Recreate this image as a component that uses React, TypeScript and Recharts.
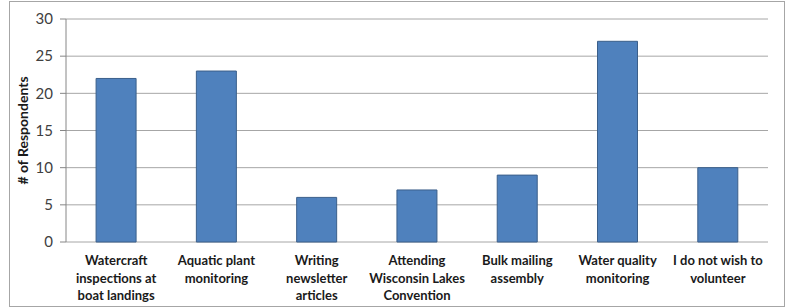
import React from 'react';
import { BarChart, Bar, XAxis, YAxis, CartesianGrid } from 'recharts';

const categories = [
  'Watercraft inspections at boat landings',
  'Aquatic plant monitoring',
  'Writing newsletter articles',
  'Attending Wisconsin Lakes Convention',
  'Bulk mailing assembly',
  'Water quality monitoring',
  'I do not wish to volunteer',
];
const categoryLines: string[][] = [
  ['Watercraft', 'inspections at', 'boat landings'],
  ['Aquatic plant', 'monitoring'],
  ['Writing', 'newsletter', 'articles'],
  ['Attending', 'Wisconsin Lakes', 'Convention'],
  ['Bulk mailing', 'assembly'],
  ['Water quality', 'monitoring'],
  ['I do not wish to', 'volunteer'],
];
const respondents = [22, 23, 6, 7, 9, 27, 10];
const yTicks = [0, 5, 10, 15, 20, 25, 30];
const boundaryTicks = [0, 1, 2, 3, 4, 5, 6, 7];

const data = categories.map((name, i) => ({ name, value: respondents[i], idx: i }));

const FONT = 'Lato, "Open Sans", sans-serif';

const CatTick = (props: any) => {
  const { x, y, index } = props;
  const lines = categoryLines[index] || [];
  return (
    <g>
      {lines.map((l, k) => (
        <text
          key={k}
          x={x}
          y={y + 15 + k * 17.5}
          textAnchor="middle"
          fontFamily={FONT}
          fontWeight="bold"
          fontSize={13}
          fill="#1a1a1a"
        >
          {l}
        </text>
      ))}
    </g>
  );
};

export default function App() {
  return (
    <div style={{ position: 'absolute', left: 0, top: 0, width: 786, height: 307, background: '#fff' }}>
      <div
        style={{
          position: 'absolute',
          left: 9,
          top: 1,
          width: 774,
          height: 304,
          border: '1px solid #a6a6a6',
        }}
      />
      <div style={{ position: 'absolute', left: 0, top: 0 }}>
        <BarChart
          width={786}
          height={307}
          data={data}
          margin={{ top: 19, right: 18, bottom: 0, left: 0 }}
          barCategoryGap="30%"
        >
          <CartesianGrid vertical={false} stroke="#a6a6a6" strokeWidth={1} yAxisId="y" xAxisId="cat" />
          <XAxis
            xAxisId="cat"
            dataKey="name"
            tickLine={false}
            axisLine={false}
            interval={0}
            height={65}
            tick={<CatTick />}
          />
          <XAxis
            xAxisId="b"
            type="number"
            domain={[0, 7]}
            ticks={boundaryTicks}
            allowDataOverflow
            height={0}
            axisLine={{ stroke: '#868686' }}
            tickLine={{ stroke: '#868686' }}
            tickSize={5}
            tickFormatter={() => ''}
          />
          <YAxis
            yAxisId="y"
            domain={[0, 30]}
            ticks={yTicks}
            interval={0}
            width={66}
            axisLine={{ stroke: '#868686' }}
            tickLine={{ stroke: '#868686' }}
            tickSize={6}
            tick={{ fontFamily: FONT, fontSize: 15, fill: '#404040', dx: -5 }}
            label={{
              content: (p: any) => {
                const vb = p.viewBox || {};
                const cx = vb.x + 22;
                const cy = vb.y + vb.height / 2;
                return (
                  <text
                    x={cx}
                    y={cy}
                    transform={`rotate(-90, ${cx}, ${cy})`}
                    textAnchor="middle"
                    dominantBaseline="central"
                    fontFamily={FONT}
                    fontWeight="bold"
                    fontSize={14}
                    fill="#1a1a1a"
                  >
                    # of Respondents
                  </text>
                );
              },
            }}
          />
          <YAxis
            yAxisId="r"
            orientation="right"
            width={0}
            domain={[0, 30]}
            tick={false}
            tickLine={false}
            axisLine={{ stroke: '#a6a6a6' }}
          />
          <Bar
            dataKey="value"
            xAxisId="cat"
            yAxisId="y"
            fill="#4F81BD"
            stroke="#3b5f8a"
            strokeWidth={1}
            isAnimationActive={false}
          />
        </BarChart>
      </div>
    </div>
  );
}
